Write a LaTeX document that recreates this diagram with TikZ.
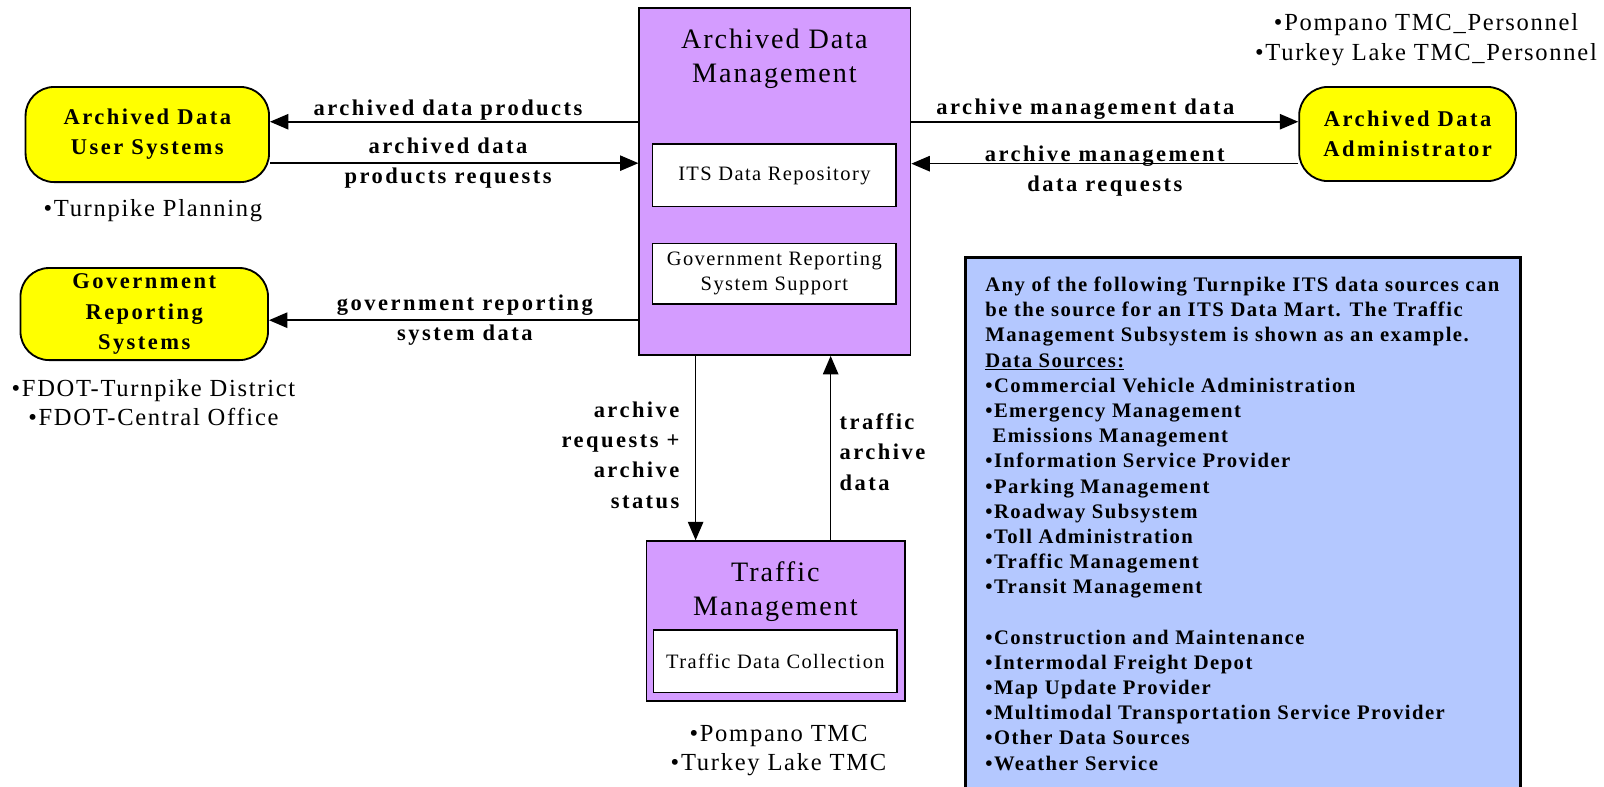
\documentclass[tikz,border=0pt]{standalone}
\usepackage{fontspec}
\setmainfont{Liberation Serif}
\newfontfamily\lblfont[LetterSpace=11]{Liberation Serif}
\newfontfamily\notefont[LetterSpace=7]{Liberation Serif}
\usetikzlibrary{arrows.meta}

\begin{document}
\begin{tikzpicture}[x=1pt,y=-1pt,
  sottosis/.style={draw=black, line width=1.8pt, fill=colSis, inner sep=0pt},
  titolo/.style={font=\notefont\fontsize{27.5}{33.5}\selectfont, align=center, inner sep=0pt},
  riquadro/.style={draw=black, line width=1.6pt, fill=white, inner sep=0pt, align=center, font=\notefont\fontsize{20}{24}\selectfont},
  terminatore/.style={draw=black, line width=1.8pt, fill=colTerm, rounded corners=28pt, inner sep=0pt, align=center, font=\lblfont\bfseries\fontsize{22}{29.5}\selectfont},
  flusso/.style={line width=1.6pt, -{Triangle[length=18pt,width=15pt]}},
  etichetta/.style={font=\lblfont\bfseries\fontsize{22}{29.5}\selectfont, align=center, inner sep=0pt},
  nota/.style={font=\notefont\fontsize{24}{29}\selectfont, align=center, inner sep=0pt},
  fonti/.style={font=\notefont\bfseries\fontsize{20.2}{24.63}\selectfont, align=left, inner sep=0pt}]

% Colori
\definecolor{colSis}{HTML}{D49CFF}
\definecolor{colTerm}{HTML}{FFFF00}
\definecolor{colFonti}{HTML}{B4C8FF}

\useasboundingbox (0,0) rectangle (1568,769);

% Sottosistema centrale
\node[sottosis, minimum width=265pt, minimum height=339pt] (adm) at (757.5,177.5) {};
\node[titolo] (admTit) at (757,57.5) {Archived Data\\Management};
\node[riquadro, minimum width=238pt, minimum height=61pt] (repo) at (757,171.5) {ITS Data Repository};
\node[riquadro, minimum width=238pt, minimum height=59pt] (grss) at (757,267.5) {Government Reporting\\System Support};

% Traffic Management
\node[sottosis, minimum width=253pt, minimum height=156pt] (tm) at (758.5,607) {};
\node[titolo] (tmTit) at (758,578) {Traffic\\Management};
\node[riquadro, minimum width=238pt, minimum height=61pt] (tdc) at (758,646.5) {Traffic Data Collection};

% Terminatori
\node[terminatore, minimum width=238pt, minimum height=93pt] (adus) at (144,131.5) {Archived Data\\User Systems};
\node[terminatore, minimum width=242pt, minimum height=90pt] (grs) at (141,307) {Government\\Reporting\\Systems};
\node[terminatore, minimum width=212pt, minimum height=92pt] (ada) at (1376,131) {Archived Data\\Administrator};

% Flussi
\draw[flusso] (adm.west |- 0,119) -- (adus.east |- 0,119)
  node[etichetta, midway, above=1pt, xshift=-6pt] {archived data products};
\draw[flusso] (adus.east |- 0,159.5) -- (adm.west |- 0,159.5)
  node[etichetta, midway, xshift=-6pt] {archived data\\products requests};
\draw[flusso] (adm.west |- 0,313) -- (grs.east |- 0,313)
  node[etichetta, midway, xshift=11pt] {government reporting\\system data};
\draw[flusso] (adm.east |- 0,119) -- (ada.west |- 0,119)
  node[etichetta, midway, above=1pt, xshift=-19pt] {archive management data};
\draw[flusso] (ada.west |- 0,160) -- (adm.east |- 0,160)
  node[etichetta, midway, yshift=-7pt] {archive management\\data requests};
\draw[flusso] (adm.south -| 680,0) -- (tm.north -| 680,0)
  node[etichetta, midway, left=15pt, align=right, yshift=-7pt] {archive\\requests +\\archive\\status};
\draw[flusso] (tm.north -| 812,0) -- (adm.south -| 812,0)
  node[etichetta, midway, right=8pt, align=left, yshift=-4pt] {traffic\\archive\\data};

% Note
\node[nota] (tpPlan) at (149.5,206) {•Turnpike Planning};
\node[nota] (fdot) at (150,393.5) {•FDOT-Turnpike District\\•FDOT-Central Office};
\node[nota] (tmcPers) at (1394,38.5) {•Pompano TMC\_Personnel\\•Turkey Lake TMC\_Personnel};
\node[nota] (tmcSedi) at (761,733.5) {•Pompano TMC\\•Turkey Lake TMC};

% Riquadro fonti dati
\fill[colFonti] (944,252) rectangle (1486,769);
\draw[line width=3pt] (944,769) -- (944,252) -- (1486,252) -- (1486,769);
\node[fonti, anchor=north west] (fonti) at (963,270.5) {Any of the following Turnpike ITS data sources can\\
be the source for an ITS Data Mart. The Traffic\\
Management Subsystem is shown as an example.\\
\underline{Data Sources:}\\
•Commercial Vehicle Administration\\
•Emergency Management\\
\phantom{•}Emissions Management\\
•Information Service Provider\\
•Parking Management\\
•Roadway Subsystem\\
•Toll Administration\\
•Traffic Management\\
•Transit Management\\[24.63pt]
•Construction and Maintenance\\
•Intermodal Freight Depot\\
•Map Update Provider\\
•Multimodal Transportation Service Provider\\
•Other Data Sources\\
•Weather Service};

\end{tikzpicture}
\end{document}
